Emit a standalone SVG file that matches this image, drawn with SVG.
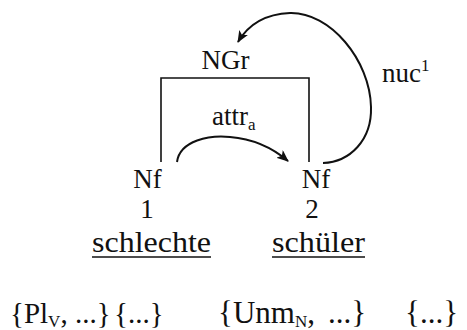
<svg xmlns="http://www.w3.org/2000/svg" width="467" height="330" viewBox="0 0 467 330">
  <style>
    text { font-family: "Liberation Serif", "Times New Roman", serif; fill: #111; }
    .lbl { font-size: 27px; }
    .word { font-size: 30px; }
    .feat { font-size: 29px; }
    .featR { font-size: 31px; }
    .sub { font-size: 17px; }
    .line { stroke: #111; stroke-width: 1.6; fill: none; }
    .arc { stroke: #111; stroke-width: 2; fill: none; }
  </style>
  <defs>
    <marker id="head" viewBox="0 0 12 10" refX="11" refY="5" markerWidth="12" markerHeight="10" markerUnits="userSpaceOnUse" orient="auto">
      <path d="M0 0 L12 5 L0 10 L3 5 Z" fill="#111"/>
    </marker>
  </defs>

  <!-- phrase bracket NGr -->
  <g id="ngr">
    <text class="lbl" x="225.5" y="69" text-anchor="middle">NGr</text>
    <path class="line" d="M161 162 V78 H309 V162"/>
  </g>

  <!-- word nodes -->
  <g id="nf1">
    <text class="lbl" x="147.5" y="188" text-anchor="middle">Nf</text>
    <text class="lbl" x="147" y="218" text-anchor="middle">1</text>
    <text class="word" x="151.5" y="252" text-anchor="middle" textLength="119" lengthAdjust="spacingAndGlyphs">schlechte</text>
    <line class="line" x1="92" y1="257" x2="211" y2="257"/>
  </g>
  <g id="nf2">
    <text class="lbl" x="316" y="188" text-anchor="middle">Nf</text>
    <text class="lbl" x="312" y="218" text-anchor="middle">2</text>
    <text class="word" x="318.5" y="252" text-anchor="middle" textLength="93" lengthAdjust="spacingAndGlyphs">schüler</text>
    <line class="line" x1="272" y1="257" x2="365" y2="257"/>
  </g>

  <!-- dependency arcs -->
  <g id="connectors">
    <path class="arc" d="M177 162 C180 140 210 135 230 137 C255 139 275 150 288 161" marker-end="url(#head)"/>
    <path class="arc" d="M323 163 C350 162 372 140 371 107 C370 60 330 12 290 13 C265 14 248 25 238 42" marker-end="url(#head)"/>
    <text class="lbl" x="212" y="125">attr<tspan class="sub" dy="5">a</tspan></text>
    <text class="lbl" x="382" y="82">nuc<tspan class="sub" dy="-11">1</tspan></text>
  </g>

  <!-- feature sets -->
  <g id="features">
    <text class="feat" x="10" y="323">{Pl<tspan class="sub" dy="4">V</tspan><tspan dy="-4">, ...}</tspan><tspan x="114">{...}</tspan></text>
    <text class="featR" x="218" y="323">{Unm<tspan class="sub" dy="4">N</tspan><tspan dy="-4">,</tspan><tspan x="328">...}</tspan><tspan x="405">{...}</tspan></text>
  </g>
</svg>
